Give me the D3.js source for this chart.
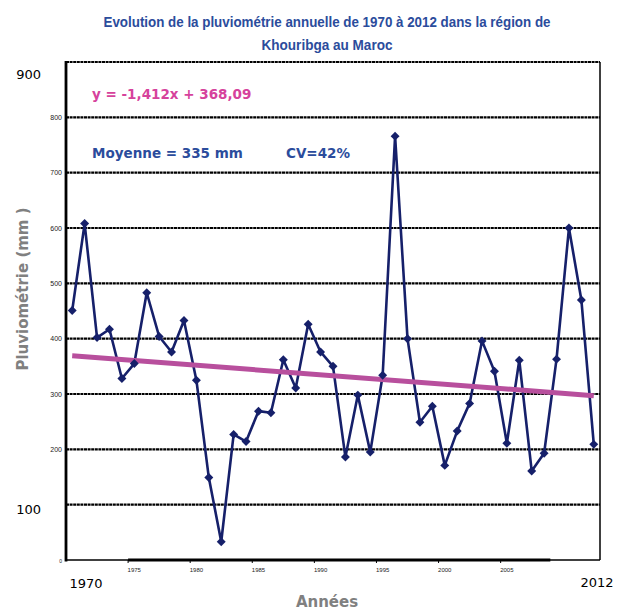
<!DOCTYPE html>
<html>
<head>
<meta charset="utf-8">
<script src="https://cdn.jsdelivr.net/npm/d3@7"></script>
<style>
  body { margin: 0; background: #fff; }
  svg { display: block; }
</style>
</head>
<body>
<script>
var w = 629;
var h = 610;

// Data
var years = d3.range(1970, 2013);
var rain = [451, 608, 402, 417, 328, 355, 483, 404, 376, 433,
            325, 149, 33, 227, 214, 269, 266, 362, 311, 426,
            376, 350, 186, 298, 195, 334, 766, 400, 249, 278,
            171, 233, 283, 396, 341, 211, 361, 161, 193, 363,
            600, 470, 209];
var trendYears = [1970, 2012];
var trendValues = [369, 297];
var smallTicks = [0, 200, 300, 400, 500, 600, 700, 800];
var bigTicks = [100, 900];
var gridValues = [100, 200, 300, 400, 500, 600, 700, 800];
var yearLabels = [1975, 1980, 1985, 1990, 1995, 2000, 2005];

var plotLeft = 66, plotRight = 600, plotTop = 62, plotBottom = 560;

var x = d3.scaleBand()
  .domain(years)
  .range([plotLeft, plotRight]);

var y = d3.scaleLinear()
  .domain([0, 900])
  .range([plotBottom, plotTop]);

var cx = function(d) { return x(d) + x.bandwidth() / 2; };

var svg = d3.select("body")
  .append("svg")
  .attr("width", w)
  .attr("height", h);

// Title
var title = svg.append("text")
  .attr("text-anchor", "middle")
  .attr("fill", "#2b4c9c")
  .style("font-family", "'Liberation Sans', Arial, sans-serif")
  .style("font-weight", "bold")
  .style("font-size", "15px");
title.append("tspan").attr("x", 327).attr("y", 27)
  .attr("textLength", 447).attr("lengthAdjust", "spacingAndGlyphs")
  .text("Evolution de la pluviométrie annuelle de 1970 à 2012 dans la région de");
title.append("tspan").attr("x", 327).attr("y", 50)
  .attr("textLength", 131).attr("lengthAdjust", "spacingAndGlyphs")
  .text("Khouribga au Maroc");

// Gridlines
svg.append("g")
  .selectAll("line")
  .data(gridValues)
  .enter()
  .append("line")
  .attr("x1", plotLeft)
  .attr("x2", plotRight)
  .attr("y1", function(d) { return y(d); })
  .attr("y2", function(d) { return y(d); })
  .attr("stroke", "#000")
  .attr("stroke-width", 2.2)
  .attr("stroke-dasharray", "3,0.6");

// Frame
svg.append("line")
  .attr("x1", plotLeft).attr("x2", plotRight).attr("y1", y(900)).attr("y2", y(900))
  .attr("stroke", "#000").attr("stroke-width", 2.2).attr("stroke-dasharray", "3,0.6");
svg.append("line")
  .attr("x1", plotRight).attr("x2", plotRight).attr("y1", y(900)).attr("y2", plotBottom)
  .attr("stroke", "#000").attr("stroke-width", 1.5);
svg.append("line")
  .attr("x1", plotLeft).attr("x2", plotRight).attr("y1", plotBottom).attr("y2", plotBottom)
  .attr("stroke", "#000").attr("stroke-width", 1.5);
svg.append("line")
  .attr("x1", x(1975)).attr("x2", x(2009)).attr("y1", plotBottom).attr("y2", plotBottom)
  .attr("stroke", "#000").attr("stroke-width", 3);
svg.append("line")
  .attr("x1", plotLeft).attr("x2", plotLeft).attr("y1", y(900) - 1).attr("y2", plotBottom + 1.5)
  .attr("stroke", "#000").attr("stroke-width", 2.8);

// Small y tick labels
svg.append("g")
  .selectAll("text")
  .data(smallTicks)
  .enter()
  .append("text")
  .attr("x", plotLeft - 4)
  .attr("y", function(d) { return y(d) + 2.5; })
  .attr("text-anchor", "end")
  .style("font-family", "'Liberation Sans', Arial, sans-serif")
  .style("font-size", function(d) { return d === 0 ? "5px" : "7px"; })
  .attr("fill", "#222")
  .text(function(d) { return d; });

// Big y tick labels
svg.append("g")
  .selectAll("text")
  .data(bigTicks)
  .enter()
  .append("text")
  .attr("x", 41)
  .attr("y", function(d) { return d === 900 ? 79 : y(d) + 9; })
  .attr("text-anchor", "end")
  .style("font-family", "'DejaVu Sans', Verdana, sans-serif")
  .style("font-size", "13px")
  .attr("fill", "#000")
  .text(function(d) { return d; });

// Small x tick marks and labels
var xt = svg.append("g");
xt.selectAll("line")
  .data(yearLabels)
  .enter()
  .append("line")
  .attr("x1", function(d) { return x(d); })
  .attr("x2", function(d) { return x(d); })
  .attr("y1", plotBottom)
  .attr("y2", plotBottom + 3)
  .attr("stroke", "#000")
  .attr("stroke-width", 1);
xt.selectAll("text")
  .data(yearLabels)
  .enter()
  .append("text")
  .attr("x", function(d) { return cx(d); })
  .attr("y", 572)
  .attr("text-anchor", "middle")
  .style("font-family", "'Liberation Sans', Arial, sans-serif")
  .style("font-size", "6px")
  .attr("fill", "#222")
  .text(function(d) { return d; });

// End year labels
svg.append("text")
  .attr("x", 86).attr("y", 588)
  .attr("text-anchor", "middle")
  .style("font-family", "'DejaVu Sans', Verdana, sans-serif")
  .style("font-size", "13px")
  .text(years[0]);
svg.append("text")
  .attr("x", 597).attr("y", 587)
  .attr("text-anchor", "middle")
  .style("font-family", "'DejaVu Sans', Verdana, sans-serif")
  .style("font-size", "13px")
  .text(years[years.length - 1]);

// Axis titles
svg.append("text")
  .attr("x", 327).attr("y", 607)
  .attr("text-anchor", "middle")
  .attr("fill", "#808080")
  .style("font-family", "'DejaVu Sans', Verdana, sans-serif")
  .style("font-weight", "bold")
  .style("font-size", "15px")
  .text("Années");
svg.append("text")
  .attr("transform", "translate(28,289) rotate(-90)")
  .attr("text-anchor", "middle")
  .attr("fill", "#808080")
  .style("font-family", "'DejaVu Sans', Verdana, sans-serif")
  .style("font-weight", "bold")
  .style("font-size", "15px")
  .attr("xml:space", "preserve")
  .text("Pluviométrie (mm )");

// Annotations
svg.append("text")
  .attr("x", 92).attr("y", 99)
  .attr("fill", "#d6429c")
  .style("font-family", "'DejaVu Sans', Verdana, sans-serif")
  .style("font-weight", "bold")
  .style("font-size", "13.5px")
  .text("y = -1,412x + 368,09");
svg.append("text")
  .attr("x", 92).attr("y", 158)
  .attr("fill", "#2b4c9c")
  .style("font-family", "'DejaVu Sans', Verdana, sans-serif")
  .style("font-weight", "bold")
  .style("font-size", "13.5px")
  .text("Moyenne = 335 mm");
svg.append("text")
  .attr("x", 286).attr("y", 158)
  .attr("fill", "#2b4c9c")
  .style("font-family", "'DejaVu Sans', Verdana, sans-serif")
  .style("font-weight", "bold")
  .style("font-size", "13.5px")
  .text("CV=42%");

// Data line
var line = d3.line()
  .x(function(d, i) { return cx(years[i]); })
  .y(function(d) { return y(d); });

svg.append("path")
  .datum(rain)
  .attr("fill", "none")
  .attr("stroke", "#16206a")
  .attr("stroke-width", 2.6)
  .attr("stroke-linejoin", "round")
  .attr("d", line);

// Trend line
svg.append("line")
  .attr("x1", cx(trendYears[0]))
  .attr("x2", cx(trendYears[1]))
  .attr("y1", y(trendValues[0]))
  .attr("y2", y(trendValues[1]))
  .attr("stroke", "#b84f9d")
  .attr("stroke-width", 5);

// Markers (square diamonds)
svg.append("g")
  .selectAll("path")
  .data(rain)
  .enter()
  .append("path")
  .attr("transform", function(d, i) { return "translate(" + cx(years[i]) + "," + y(d) + ") rotate(45)"; })
  .attr("d", d3.symbol().type(d3.symbolSquare).size(40))
  .attr("fill", "#16206a");
</script>
</body>
</html>
